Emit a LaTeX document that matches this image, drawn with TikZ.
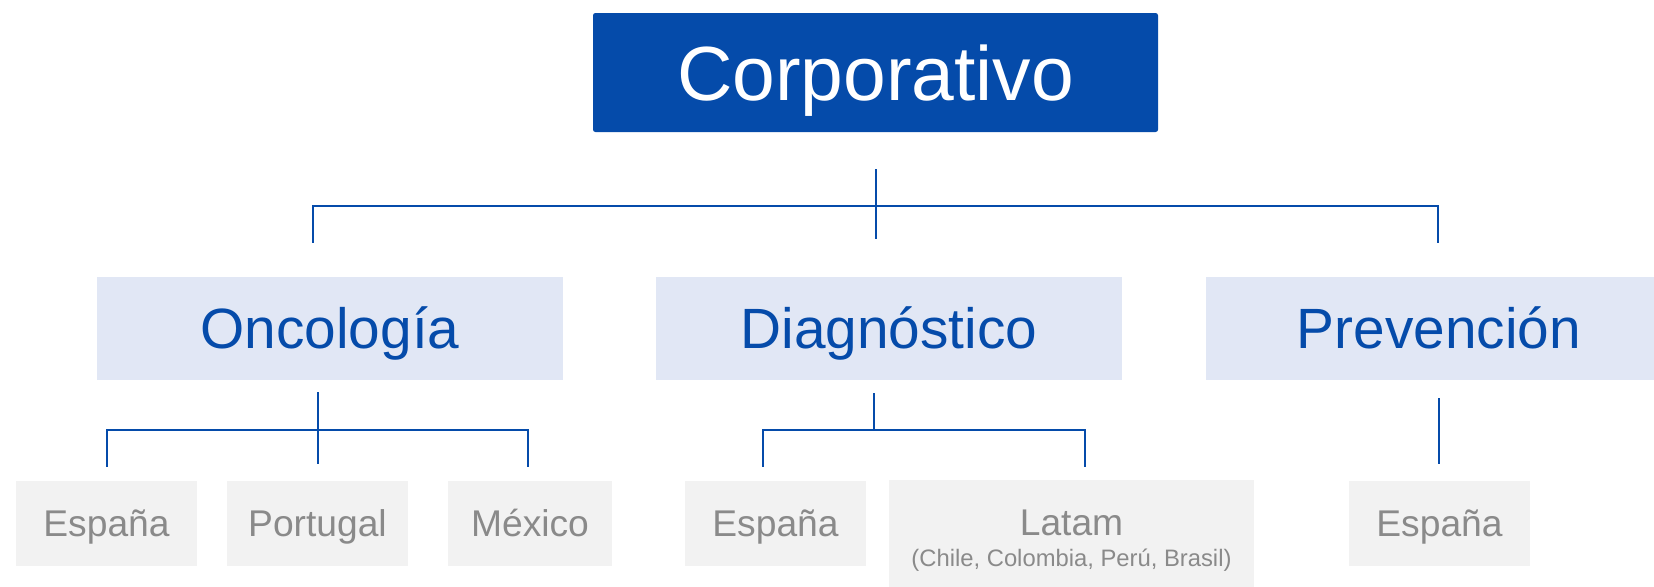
\documentclass[tikz,border=0pt]{standalone}
\usepackage{fontspec}
\setmainfont{Liberation Sans}
\usetikzlibrary{calc}
\definecolor{corpblue}{HTML}{054BAA}
\definecolor{lavender}{HTML}{E1E7F5}
\definecolor{lightgrey}{HTML}{F2F2F2}
\definecolor{textgrey}{HTML}{8A8A8A}
\begin{document}
\begin{tikzpicture}[x=0.5pt,y=-0.5pt,
 corpbox/.style={fill=corpblue, text=white, rounded corners=1.2pt, minimum width=282.5pt, minimum height=59.5pt, font=\fontsize{38.4}{40}\selectfont, text height=27.5pt, text depth=0pt, inner sep=0pt},
 divbox/.style={fill=lavender, text=corpblue, minimum width=233pt, minimum height=51.5pt, font=\fontsize{28.4}{30}\selectfont, text height=20.3pt, text depth=0pt, inner sep=0pt},
 countrybox/.style={fill=lightgrey, text=textgrey, minimum width=90.5pt, minimum height=42.5pt, font=\fontsize{18.6}{20}\selectfont, text height=13.3pt, text depth=0pt, inner sep=0pt},
 link/.style={draw=corpblue, line width=1pt}]
\useasboundingbox (0,0) rectangle (1654,586);
\clip (0,0) rectangle (1654,586);
% level 1
\node[corpbox] (corp) at (875.5,72.5) {Corporativo};
% level 2
\node[divbox] (onc) at (330,328.5) {Oncología};
\node[divbox] (diag) at (889,328.5) {Diagnóstico};
\node[divbox] (prev) at (1439,328.5) {Prevención};
% level 3
\node[countrybox] (esp1) at (106.5,523.5) {España};
\node[countrybox] (port) at (317.5,523.5) {Portugal};
\node[countrybox, minimum width=82pt] (mex) at (530,523.5) {México};
\node[countrybox] (esp2) at (775.5,523.5) {España};
\node[countrybox, minimum width=182.5pt, minimum height=60pt] (latam) at (1071.5,540) {};
\node[anchor=base, text=textgrey, font=\fontsize{18.6}{20}\selectfont, inner sep=0pt] (latamt) at (1071.5,535) {Latam};
\node[anchor=base, text=textgrey, font=\fontsize{11.9}{13}\selectfont, inner sep=0pt] (latams) at (1071.5,566) {(Chile, Colombia, Perú, Brasil)};
\node[countrybox] (esp3) at (1439.5,523.5) {España};
% connectors level 1 -> 2
\draw[link] ($(corp.south)+(0,37)$) -- ($(corp.south)+(0,107)$);
\draw[link] ($(onc.north)+(-17,-34)$) -- ($(onc.north)+(-17,-71)$) -- ($(prev.north)+(-1,-71)$) -- ($(prev.north)+(-1,-34)$);
% Oncologia -> countries
\draw[link] ($(onc.south)+(-12,12)$) -- ($(onc.south)+(-12,84)$);
\draw[link] ($(esp1.north)+(0,-14)$) -- ($(esp1.north)+(0,-51)$) -- ($(mex.north)+(-2,-51)$) -- ($(mex.north)+(-2,-14)$);
% Diagnostico -> countries
\draw[link] ($(diag.south)+(-15,13)$) -- ($(diag.south)+(-15,50)$);
\draw[link] ($(esp2.north)+(-12.5,-14)$) -- ($(esp2.north)+(-12.5,-51)$) -- ($(latam.north)+(13.5,-50)$) -- ($(latam.north)+(13.5,-13)$);
% Prevencion -> Espana
\draw[link] ($(prev.south)+(0,18)$) -- ($(prev.south)+(0,84)$);
\end{tikzpicture}
\end{document}
